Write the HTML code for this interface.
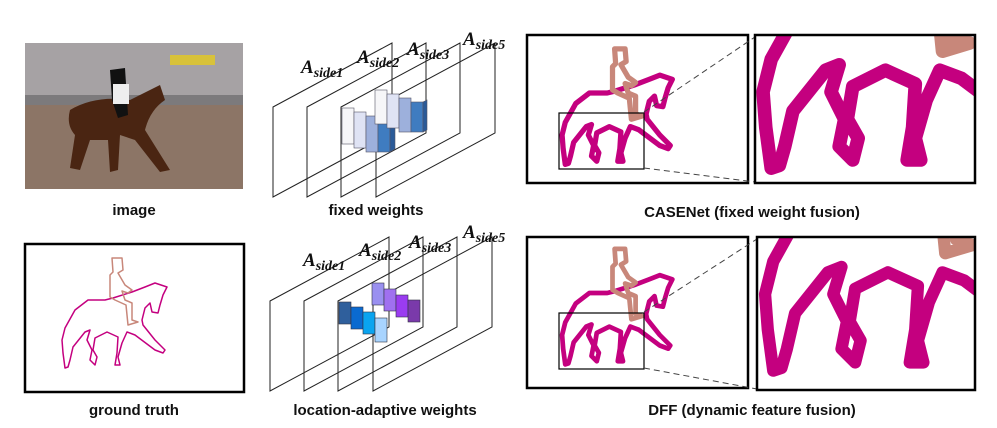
<!DOCTYPE html>
<html><head><meta charset="utf-8"><style>
html,body{margin:0;padding:0;background:#fff;}
svg{display:block;}
.lab{font-family:"Liberation Sans",sans-serif;font-weight:bold;font-size:15px;fill:#111;}
.a{font-family:"Liberation Serif",serif;font-weight:bold;font-style:italic;font-size:19px;fill:#111;}
.a tspan.s{font-size:14px;}
</style></head><body>
<svg width="997" height="428" viewBox="0 0 997 428" xmlns="http://www.w3.org/2000/svg">
<defs>
<g id="horse">
<path d="M65,328 L75,310 L88,300 L105,300 L113,298 L132,292 L145,287 L155,283 L167,287 L163,295 L160,305 L158,313 L152,312 L150,303 L145,308 L142,320 L143,325 L155,340 L165,350 L163,353 L155,350 L135,335 L127,332 L122,343 L118,357 L120,365 L115,365 L117,353 L118,337 L107,332 L95,338 L93,350 L97,357 L95,365 L90,360 L92,350 L87,340 L90,330 L85,332 L73,347 L70,360 L68,367 L65,368 L63,353 L62,340 Z" fill="none" stroke="#c4007f" stroke-linejoin="round"/>
<path d="M112,258 L122,258 L123,270 L118,273 L125,285 L132,290 L128,293 L122,291 L125,300 L132,303 L132,320 L138,322 L128,325 L126,305 L115,300 L110,297 L110,275 L113,272 Z" fill="none" stroke="#c8877a" stroke-linejoin="round"/>
</g>
<clipPath id="cz1"><rect x="755" y="35" width="220" height="148"/></clipPath>
<clipPath id="cz2"><rect x="757" y="237" width="218" height="153"/></clipPath>
<g id="planes">
<path d="M0,64 L119,0 L119,90 L0,154 Z M34,64 L153,0 L153,90 L34,154 Z M68,64 L187,0 L187,90 L68,154 Z M103,64 L222,0 L222,90 L103,154 Z" fill="none" stroke="#222" stroke-width="1"/>
</g>
</defs>

<!-- photo -->
<rect x="25" y="43" width="218" height="146" fill="#8a7466"/>
<rect x="25" y="43" width="218" height="58" fill="#a6a2a4"/>
<rect x="25" y="95" width="218" height="10" fill="#7c7a7c"/>
<rect x="170" y="55" width="45" height="10" fill="#d8c23a"/>
<rect x="25" y="105" width="218" height="84" fill="#8c7566"/>
<path d="M70,110 Q95,95 130,100 Q150,90 160,85 L165,100 Q150,110 145,130 L170,170 L160,172 L135,140 L120,135 L118,170 L110,172 L108,140 L90,140 L80,170 L70,168 L75,135 Q66,125 70,110 Z" fill="#4a2512"/>
<path d="M110,70 L125,68 L128,115 L118,118 L112,100 Z" fill="#111"/>
<rect x="113" y="84" width="16" height="20" fill="#eee"/>

<text class="lab" x="134" y="215" text-anchor="middle">image</text>

<!-- ground truth -->
<rect x="25" y="244" width="219" height="148" fill="#fff" stroke="#000" stroke-width="2.5"/>
<use href="#horse" stroke-width="1.5"/>
<text class="lab" x="134" y="415" text-anchor="middle">ground truth</text>

<!-- fixed weights -->
<use href="#planes" transform="translate(273,43)"/>
<g stroke="#556" stroke-width="0.6">
<rect x="342" y="108" width="12" height="36" fill="#f6f6f8"/>
<rect x="354" y="112" width="12" height="36" fill="#dfe3f4"/>
<rect x="366" y="116" width="12" height="36" fill="#9db0dc"/>
<rect x="378" y="120" width="12" height="32" fill="#3f7cc0"/>
<path d="M390,120 l5,-3 l0,32 l-5,3Z" fill="#2a5a98"/>
<rect x="375" y="90" width="12" height="34" fill="#f6f6f8"/>
<rect x="387" y="94" width="12" height="34" fill="#dfe3f4"/>
<rect x="399" y="98" width="12" height="34" fill="#9db0dc"/>
<rect x="411" y="102" width="12" height="30" fill="#3f7cc0"/>
<path d="M423,102 l4,-2 l0,30 l-4,2Z" fill="#2a5a98"/>
</g>
<text class="a" x="301" y="73">A<tspan class="s" dy="4">side1</tspan></text>
<text class="a" x="357" y="63">A<tspan class="s" dy="4">side2</tspan></text>
<text class="a" x="407" y="55">A<tspan class="s" dy="4">side3</tspan></text>
<text class="a" x="463" y="45">A<tspan class="s" dy="4">side5</tspan></text>
<text class="lab" x="376" y="215" text-anchor="middle">fixed weights</text>

<!-- location-adaptive -->
<use href="#planes" transform="translate(270,237)"/>
<g stroke="#334" stroke-width="0.6">
<rect x="372" y="283" width="12" height="22" fill="#9a90f0"/>
<rect x="384" y="289" width="12" height="22" fill="#a070f0"/>
<rect x="396" y="295" width="12" height="22" fill="#9a3cf0"/>
<rect x="408" y="300" width="12" height="22" fill="#7a3aaa"/>
<rect x="339" y="302" width="12" height="22" fill="#2f5f9c"/>
<rect x="351" y="307" width="12" height="22" fill="#0a6ad0"/>
<rect x="363" y="312" width="12" height="22" fill="#0aa4f0"/>
<rect x="375" y="318" width="12" height="24" fill="#a8d4ff"/>
</g>
<text class="a" x="303" y="266">A<tspan class="s" dy="4">side1</tspan></text>
<text class="a" x="359" y="256">A<tspan class="s" dy="4">side2</tspan></text>
<text class="a" x="409" y="248">A<tspan class="s" dy="4">side3</tspan></text>
<text class="a" x="463" y="238">A<tspan class="s" dy="4">side5</tspan></text>
<text class="lab" x="385" y="415" text-anchor="middle">location-adaptive weights</text>

<!-- CASENet -->
<rect x="527" y="35" width="221" height="148" fill="#fff" stroke="#000" stroke-width="2.5"/>
<use href="#horse" transform="translate(497,-222) scale(1.05)" stroke-width="5"/>
<rect x="559" y="113" width="85" height="56" fill="none" stroke="#000" stroke-width="1.2"/>
<path d="M644,112 L755,37 M644,168 L755,182" stroke="#444" stroke-dasharray="6,4" stroke-width="1"/>
<g clip-path="url(#cz1)"><g transform="translate(755,35) scale(2.59) translate(-559,-113)"><use href="#horse" transform="translate(497,-222) scale(1.05)" stroke-width="5"/></g></g>
<rect x="755" y="35" width="220" height="148" fill="none" stroke="#000" stroke-width="2.5"/>
<text class="lab" x="752" y="217" text-anchor="middle">CASENet (fixed weight fusion)</text>

<!-- DFF -->
<rect x="527" y="237" width="221" height="151" fill="#fff" stroke="#000" stroke-width="2.5"/>
<use href="#horse" transform="translate(497,-22) scale(1.05)" stroke-width="4.5"/>
<rect x="559" y="313" width="85" height="56" fill="none" stroke="#000" stroke-width="1.2"/>
<path d="M644,312 L757,239 M644,368 L757,389" stroke="#444" stroke-dasharray="6,4" stroke-width="1"/>
<g clip-path="url(#cz2)"><g transform="translate(757,237) scale(2.6) translate(-559,-313)"><use href="#horse" transform="translate(497,-22) scale(1.05)" stroke-width="4.5"/></g></g>
<rect x="757" y="237" width="218" height="153" fill="none" stroke="#000" stroke-width="2.5"/>
<text class="lab" x="752" y="415" text-anchor="middle">DFF (dynamic feature fusion)</text>
</svg>
</body></html>
